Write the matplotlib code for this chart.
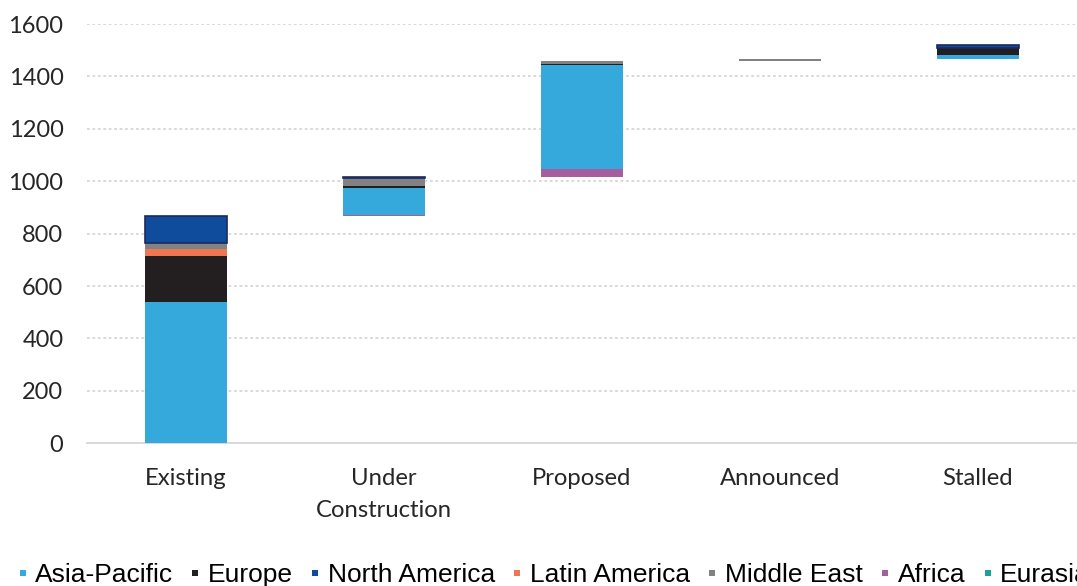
import matplotlib
matplotlib.use("Agg")
import matplotlib.pyplot as plt
from matplotlib.lines import Line2D
import numpy as np

# stages of the pipeline (waterfall: each stage sits on top of the previous total)
stages = ["Existing", "Under\nConstruction", "Proposed", "Announced", "Stalled"]

# capacity by region for each stage
africa        = [2,   4,   28,  0,  0]
asia_pacific  = [538, 106, 397, 0,  13]
eurasia       = [0,   0,   0,   0,  0]
europe        = [174, 4,   7,   0,  29]
latin_america = [28,  0,   0,   0,  0]
middle_east   = [23,  33,  8,   10, 0]
north_america = [101, 4,   0,   0,  10]

# stacking order (bottom -> top)
series = [
    ("Africa", africa, "#a65e9f"),
    ("Asia-Pacific", asia_pacific, "#35a9db"),
    ("Eurasia", eurasia, "#1e9f97"),
    ("Europe", europe, "#231f20"),
    ("Latin America", latin_america, "#ee7651"),
    ("Middle East", middle_east, "#818284"),
    ("North America", north_america, "#0f4c9b"),
]
legend_order = ["Asia-Pacific", "Europe", "North America", "Latin America",
                "Middle East", "Africa", "Eurasia"]

totals = np.sum([np.array(s[1]) for s in series], axis=0)
base = np.concatenate([[0], np.cumsum(totals)[:-1]])

fig = plt.figure(figsize=(10.77, 5.86), dpi=100)
ax = fig.add_axes([0.0808, 0.2435, 0.9192, 0.7155])

x = np.arange(len(stages))
bottom = base.astype(float)
colors = {}
for name, vals, col in series:
    vals = np.array(vals, dtype=float)
    colors[name] = col
    if name == "North America":
        # outline only where there is something to outline
        edges = ["#1c2a5e" if v > 0 else "none" for v in vals]
        ax.bar(x, vals, 0.414, bottom=bottom, color=col, edgecolor=edges,
               linewidth=1.2, zorder=3)
    else:
        ax.bar(x, vals, 0.414, bottom=bottom, color=col, linewidth=0, zorder=3)
    bottom = bottom + vals

ax.set_xlim(-0.5, 4.5)
ax.set_ylim(0, 1600)
ax.set_yticks(np.arange(0, 1601, 200))
ax.set_xticks(x)
ax.set_xticklabels(stages, fontfamily="Lato", fontsize=17.2, color="#262626",
                   linespacing=1.62)
for lab in ax.get_yticklabels():
    lab.set_fontfamily("Lato")
    lab.set_fontsize(17)
    lab.set_color("#262626")

ax.tick_params(axis="both", length=0)
ax.tick_params(axis="y", pad=17)
ax.tick_params(axis="x", pad=18)

ax.yaxis.grid(True, color="#d9d9d9", linestyle=(0, (1.4, 1.4)), linewidth=1.4)
ax.set_axisbelow(True)
for side in ["left", "right", "top"]:
    ax.spines[side].set_visible(False)
ax.spines["bottom"].set_color("#d9d9d9")
ax.spines["bottom"].set_linewidth(1.4)

handles = [Line2D([], [], marker="s", linestyle="none", markersize=4.3,
                  markerfacecolor=colors[n], markeredgewidth=0) for n in legend_order]
fig.legend(handles, legend_order, loc="lower left", bbox_to_anchor=(0.016, -0.0025),
           ncol=7, frameon=False, handlelength=0.4, handletextpad=0.27,
           columnspacing=0.65, borderpad=0, borderaxespad=0,
           prop={"family": "Liberation Sans", "size": 19})

fig.savefig("out.png", dpi=100)
